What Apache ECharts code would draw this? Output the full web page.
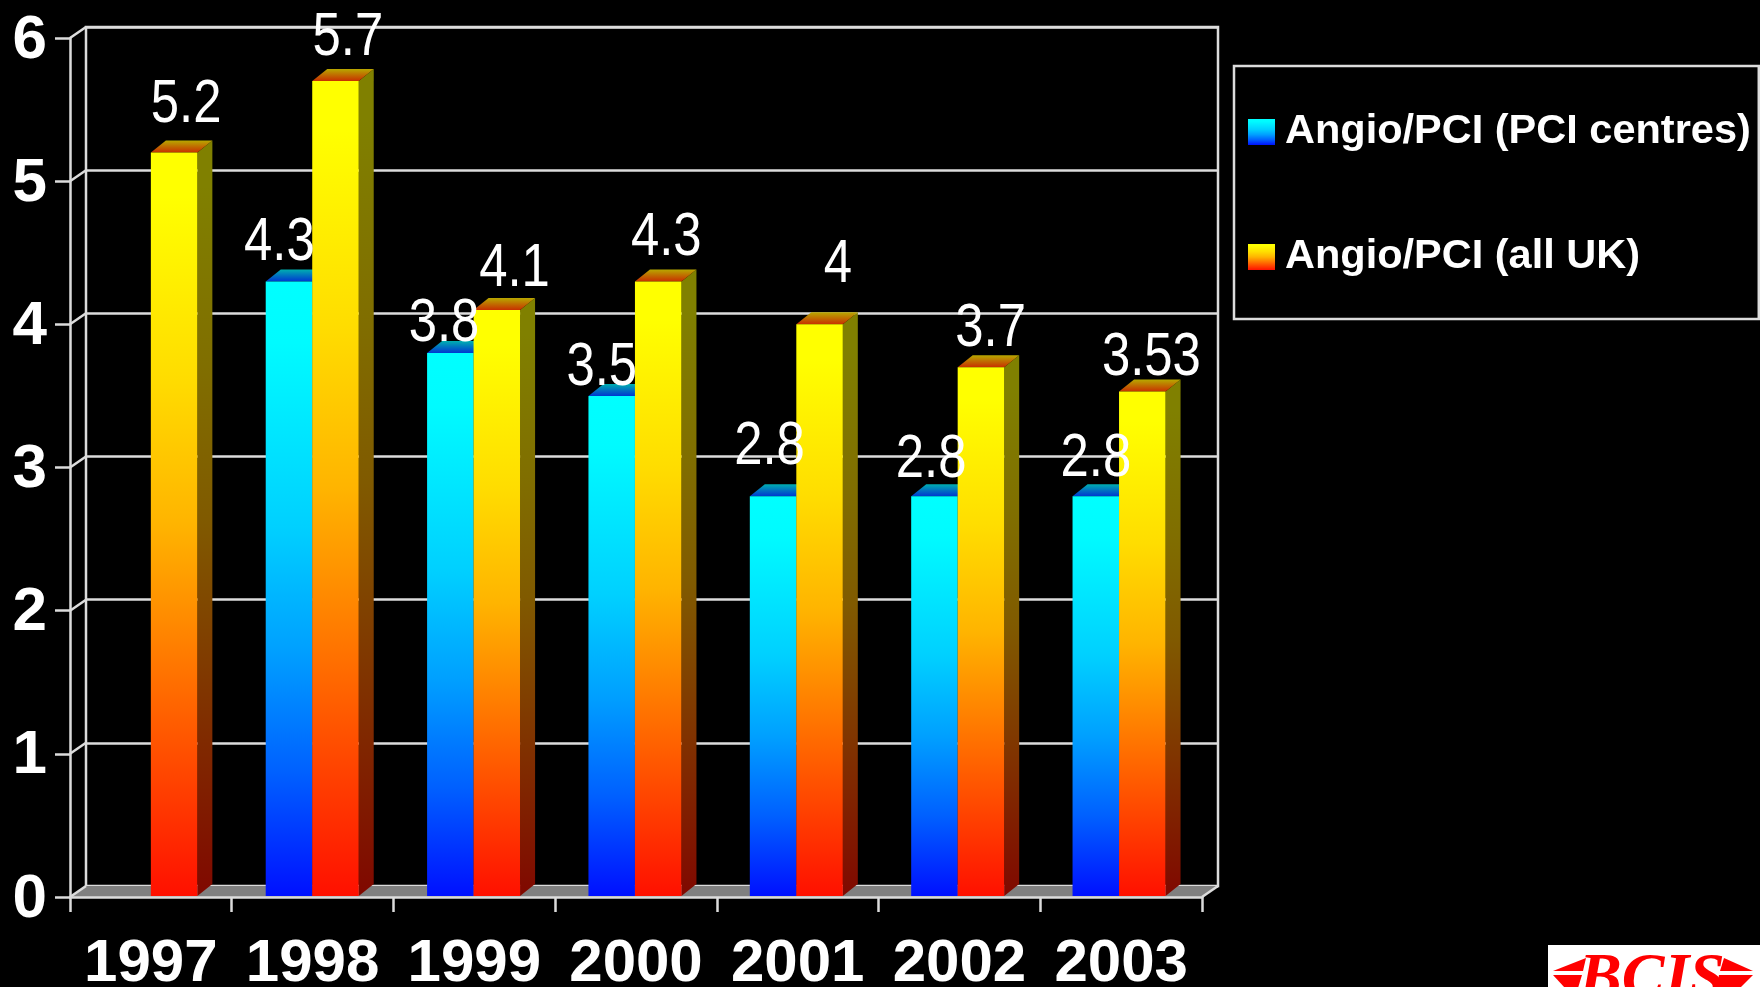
<!DOCTYPE html>
<html><head><meta charset="utf-8">
<style>html,body{margin:0;padding:0;background:#000;overflow:hidden}#c{width:1760px;height:987px}</style>
<script src="https://cdn.jsdelivr.net/npm/echarts@6/dist/echarts.min.js"></script>
</head><body><div id="c"></div>
<script>
const categories = ['1997','1998','1999','2000','2001','2002','2003'];
const yTicks = [0,1,2,3,4,5,6];
const pciCentres = [null,4.3,3.8,3.5,2.8,2.8,2.8];
const allUK = [5.2,5.7,4.1,4.3,4,3.7,3.53];
const pciName = 'Angio/PCI (PCI centres)';
const ukName = 'Angio/PCI (all UK)';
// hand placement of the value labels relative to the bar centre / top (px)
const pciLabelDx = [0,-10,-7,-11,-5,-5,-2];
const ukLabelDx = [12,12,17,7,17,8,7];
const pciLabelDy = [0,-7,2,3,-18,-5,-6];
const ukLabelDy = [-17,-12,-10,-12,-28,-7,-3];

const BAR_W=46.5, DX=15, DY=12, WALL_X=16, WALL_Y=11, DRIFT=0.35;
const LINE='#dcdcdc', LW=2.5;
const stops=(list)=>new echarts.graphic.LinearGradient(0,0,0,1,list.map(s=>({offset:s[0],color:s[1]})));
const ukFront=[[0,'#ffff00'],[0.06,'#ffff00'],[0.3,'#ffdd00'],[0.5,'#ffb400'],[0.6,'#ff9400'],[0.8,'#ff5200'],[1,'#ff1000']];
const ukSide=[[0,'#808000'],[0.06,'#808000'],[0.3,'#806e00'],[0.5,'#805a00'],[0.6,'#804a00'],[0.8,'#802900'],[1,'#800800']];
const pciFront=[[0,'#00ffff'],[0.1,'#00fbff'],[0.4,'#00d0ff'],[0.6,'#00a0ff'],[0.8,'#0060ff'],[1,'#0010ff']];
const pciSide=[[0,'#008080'],[0.1,'#007e80'],[0.4,'#006880'],[0.6,'#005080'],[0.8,'#003080'],[1,'#000880']];
const palette={
  pci:{front:pciFront,side:pciSide,top:[[0,'#00b0b0'],[1,'#0038d0']]},
  uk:{front:ukFront,side:ukSide,top:[[0,'#b8a800'],[1,'#c83000']]}
};
function barRender(key,shift){
  const p=palette[key];
  return function(params,api){
    const v=api.value(1); if(v==null||isNaN(v)) return;
    const top=api.coord([api.value(0),v]), base=api.coord([api.value(0),0]);
    const x=top[0]+shift-api.value(0)*DRIFT, y=top[1], b=base[1]-1;
    return {type:'group',children:[
      {type:'polygon',shape:{points:[[x+BAR_W,y],[x+BAR_W+DX,y-DY],[x+BAR_W+DX,b-DY],[x+BAR_W,b]]},style:{fill:stops(p.side)}},
      {type:'polygon',shape:{points:[[x,y],[x+DX,y-DY],[x+BAR_W+DX,y-DY],[x+BAR_W,y]]},style:{fill:stops(p.top)}},
      {type:'rect',shape:{x:x,y:y,width:BAR_W,height:b-y},style:{fill:stops(p.front)}}
    ]};
  };
}
function labelRender(shift,dxs,dys){
  return function(params,api){
    const v=api.value(1); if(v==null||isNaN(v)) return;
    const i=api.value(0), pt=api.coord([i,v]);
    const cx=pt[0]+shift+BAR_W/2+dxs[i];
    return {type:'text',x:cx,y:pt[1]+dys[i],scaleX:0.82,style:{text:String(v),fill:'#fff',font:'62px "Liberation Sans"',textAlign:'center',textVerticalAlign:'bottom'}};
  };
}
function frameRender(params,api){
  const cs=params.coordSys, y=api.coord([0,api.value(1)])[1], x0=cs.x, x1=cs.x+cs.width;
  const ls={stroke:LINE,lineWidth:LW};
  const kids=[{type:'line',shape:{x1:x0,y1:y,x2:x0+WALL_X,y2:y-WALL_Y},style:ls}];
  if(api.value(1)===0){
    kids.unshift({type:'polygon',shape:{points:[[x0,y],[x0+WALL_X,y-WALL_Y],[x1+WALL_X,y-WALL_Y],[x1,y]]},style:{fill:'#808080'}});
    kids.push({type:'line',shape:{x1:x1,y1:y,x2:x1+WALL_X,y2:y-WALL_Y},style:ls});
  }
  return {type:'group',children:kids};
}
const rows=a=>a.map((v,i)=>[i,v]);
const chart=echarts.init(document.getElementById('c'),null,{renderer:'canvas'});
chart.setOption({
  backgroundColor:'#000',animation:false,
  grid:[
    {left:70,top:38,width:1132,height:859,outerBoundsMode:'none'},
    {left:86,top:27,width:1132,height:859,outerBoundsMode:'none',show:true,borderColor:LINE,borderWidth:LW,backgroundColor:'transparent'}
  ],
  xAxis:[
    {type:'category',gridIndex:0,data:categories,z:6,
     axisLine:{show:true,lineStyle:{color:LINE,width:LW}},
     axisTick:{show:true,length:15,lineStyle:{color:LINE,width:LW}},
     axisLabel:{color:'#fff',fontFamily:'Liberation Sans',fontWeight:'bold',fontSize:60,margin:37,interval:0}},
    {type:'category',gridIndex:1,data:categories,show:false}
  ],
  yAxis:[
    {type:'value',gridIndex:0,min:0,max:6,interval:1,z:6,
     axisLine:{show:true,lineStyle:{color:LINE,width:LW}},
     axisTick:{show:true,length:15,lineStyle:{color:LINE,width:LW}},
     splitLine:{show:false},
     axisLabel:{color:'#fff',fontFamily:'Liberation Sans',fontWeight:'bold',fontSize:62,margin:23,verticalAlign:'top',lineHeight:5}},
    {type:'value',gridIndex:1,min:0,max:6,interval:1,
     axisLine:{show:false},axisTick:{show:false},axisLabel:{show:false},
     splitLine:{show:true,lineStyle:{color:LINE,width:LW}}}
  ],
  legend:{show:true,data:[pciName,ukName],orient:'vertical',left:1234,top:66,
    padding:[45,8,41,14],itemGap:83,itemWidth:27,itemHeight:26,icon:'rect',
    borderColor:LINE,borderWidth:LW,backgroundColor:'#000',
    textStyle:{color:'#fff',fontFamily:'Liberation Sans',fontWeight:'bold',fontSize:41.5,padding:[10,0,0,5]}},
  series:[
    {type:'custom',name:'frame',xAxisIndex:0,yAxisIndex:0,z:1,silent:true,clip:false,renderItem:frameRender,encode:{x:0,y:1},data:yTicks.map(v=>[0,v])},
    {type:'custom',name:pciName,xAxisIndex:0,yAxisIndex:0,z:2,clip:false,renderItem:barRender('pci',-BAR_W),encode:{x:0,y:1},data:rows(pciCentres),itemStyle:{color:stops(pciFront)}},
    {type:'custom',name:ukName,xAxisIndex:0,yAxisIndex:0,z:3,clip:false,renderItem:barRender('uk',0),encode:{x:0,y:1},data:rows(allUK),itemStyle:{color:stops(ukFront)}},
    {type:'custom',name:'pciLabels',xAxisIndex:0,yAxisIndex:0,z:5,silent:true,clip:false,renderItem:labelRender(-BAR_W,pciLabelDx,pciLabelDy),encode:{x:0,y:1},data:rows(pciCentres)},
    {type:'custom',name:'ukLabels',xAxisIndex:0,yAxisIndex:0,z:5,silent:true,clip:false,renderItem:labelRender(0,ukLabelDx,ukLabelDy),encode:{x:0,y:1},data:rows(allUK)}
  ],
  graphic:[
    {type:'rect',z:20,shape:{x:1548,y:945,width:212,height:42},style:{fill:'#fff'}},
    {type:'text',z:21,x:1652,y:948,style:{text:'BCIS',fill:'#ff0000',font:'italic bold 64px "Liberation Serif"',textAlign:'center',textVerticalAlign:'top'}},
    {type:'polygon',z:21,shape:{points:[[1553,971],[1586,958],[1583,971]]},style:{fill:'#ff0000'}},
    {type:'polygon',z:21,shape:{points:[[1553,975],[1582,975],[1578,988],[1565,988]]},style:{fill:'#ff0000'}},
    {type:'polygon',z:21,shape:{points:[[1753,971],[1724,958],[1720,971]]},style:{fill:'#ff0000'}},
    {type:'polygon',z:21,shape:{points:[[1753,975],[1719,975],[1716,988],[1740,988]]},style:{fill:'#ff0000'}}
  ]
});
</script></body></html>
